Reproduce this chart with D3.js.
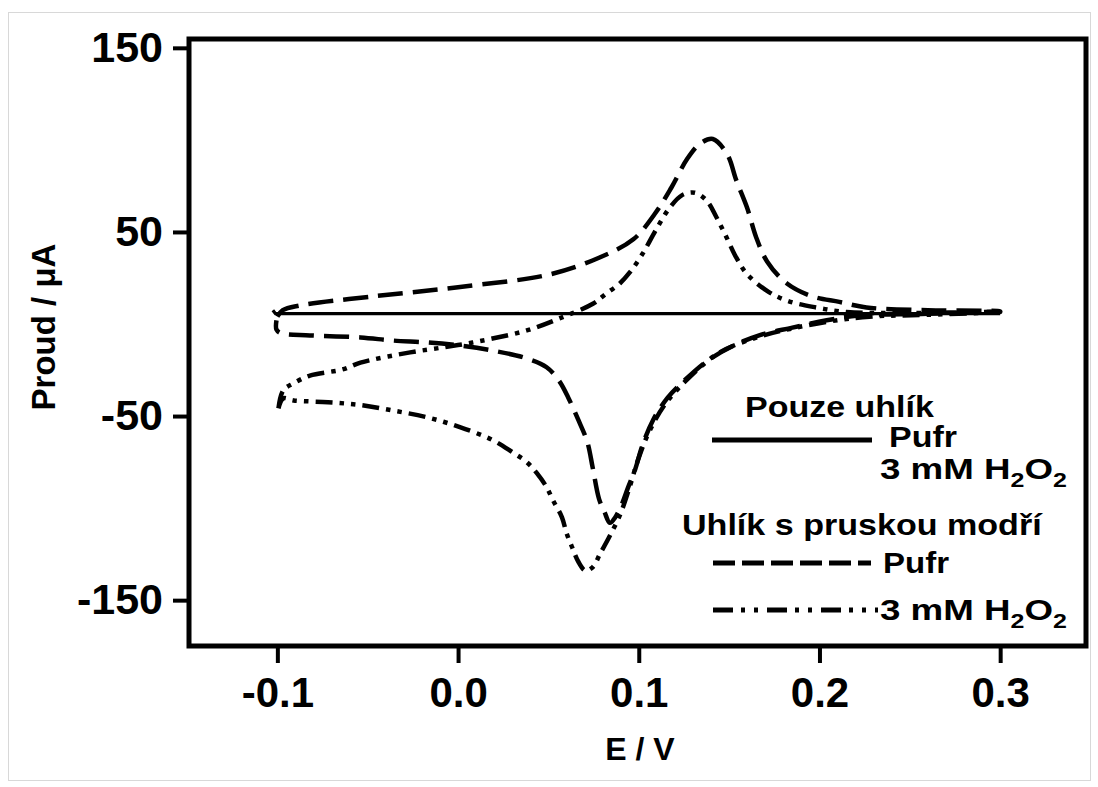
<!DOCTYPE html>
<html><head><meta charset="utf-8">
<script src="https://cdn.jsdelivr.net/npm/d3@7"></script>
<style>
body{margin:0;background:#fff}
svg{display:block}
text{font-family:"Liberation Sans",Arial,sans-serif;font-weight:bold;fill:#000}
</style>
</head><body><svg id="c" width="1098" height="787"></svg>
<script>
// ---------- data ----------
const potentialTicks = [-0.1, 0.0, 0.1, 0.2, 0.3];
const currentTicks = [150, 50, -50, -150];
const xTitle = "E / V";
const yTitle = "Proud / μA";

// Carbon only, buffer (solid)
const carbonBuffer = [[-0.1025, 7.5], [-0.101, 5.6], [0.3, 5.6]];

// Carbon with Prussian blue, buffer (dashed) – anodic then cathodic scan
const pbBufferForward = [[-0.1, 4], [-0.097, 7.5], [-0.088, 10], [-0.047, 15], [0.0, 20], [0.051, 27], [0.078, 36],
  [0.097, 46], [0.109, 60], [0.118, 74], [0.127, 90], [0.134, 98], [0.141, 100.5], [0.149, 92], [0.154, 78],
  [0.160, 63], [0.165, 47], [0.171, 34], [0.182, 22], [0.196, 15], [0.211, 12], [0.226, 9], [0.26, 7.5], [0.3, 7]];
const pbBufferReverse = [[0.3, 6.5], [0.26, 5.5], [0.222, 4.6], [0.204, 2], [0.185, -2], [0.167, -6], [0.152, -12],
  [0.138, -20], [0.126, -30], [0.116, -40], [0.108, -52], [0.102, -66], [0.098, -79], [0.094, -89], [0.091, -97],
  [0.087, -105], [0.084, -108], [0.081, -102], [0.078, -95], [0.0745, -78], [0.0715, -64], [0.0665, -52],
  [0.061, -40], [0.056, -31], [0.049, -23.5], [0.038, -18.7], [0.019, -14.4], [0.001, -11.7], [-0.017, -10],
  [-0.036, -9], [-0.054, -7.3], [-0.082, -6.2], [-0.098, -5], [-0.1005, -3], [-0.1005, 2]];

// Carbon with Prussian blue, 3 mM H2O2 (dash-dot-dot)
const pbH2O2Forward = [[-0.0994, -45.8], [-0.0967, -36], [-0.091, -32.2], [-0.082, -28], [-0.064, -24.7],
  [-0.054, -21], [-0.0265, -15.4], [-0.008, -12.7], [0.005, -10.6], [0.019, -7.9], [0.038, -3.5], [0.056, 3],
  [0.0746, 11], [0.082, 16.5], [0.0895, 22], [0.095, 28], [0.102, 38], [0.110, 52], [0.117, 63], [0.124, 70],
  [0.131, 71.3], [0.1376, 67], [0.143, 58], [0.1486, 47], [0.154, 36], [0.160, 27], [0.171, 18], [0.182, 12.7],
  [0.198, 9], [0.215, 6.5], [0.25, 6], [0.3, 6.5]];
const pbH2O2Reverse = [[0.3, 6], [0.26, 5], [0.2276, 4], [0.2055, 1.4], [0.185, -2.4], [0.167, -6.8],
  [0.1448, -15.4], [0.128, -29], [0.115, -43], [0.106, -58], [0.0995, -74], [0.0945, -90], [0.0895, -104],
  [0.0835, -116], [0.0785, -125], [0.0746, -132], [0.0705, -134], [0.0665, -129], [0.063, -121], [0.060, -113.5],
  [0.0575, -105], [0.0525, -95.7], [0.049, -88.6], [0.0436, -81], [0.038, -75], [0.030, -69.6], [0.019, -63],
  [0.001, -56], [-0.017, -50.7], [-0.036, -47], [-0.054, -44], [-0.072, -42.5], [-0.091, -41.5], [-0.0967, -40.4],
  [-0.0994, -45.8]];

const legendHeaders = ["Pouze uhlík", "Uhlík s pruskou modří"];
const legendLabels = ["Pufr", "3 mM H2O2", "Pufr", "3 mM H2O2"];

// ---------- chart ----------
const svg = d3.select("#c");
const plot = {left: 189, right: 1086, top: 39, bottom: 646};

svg.append("rect").attr("x", 8.5).attr("y", 12.5).attr("width", 1082).attr("height", 768)
  .attr("fill", "#fff").attr("stroke", "#d8d8d8").attr("stroke-width", 1);

const x = d3.scaleLinear().domain([-0.1489, 0.3475]).range([plot.left, plot.right]);
const y = d3.scaleLinear().domain([-174.9, 154.8]).range([plot.bottom, plot.top]);

const smooth = d3.line().x(d => x(d[0])).y(d => y(d[1])).curve(d3.curveCatmullRom.alpha(0.5));
const straight = d3.line().x(d => x(d[0])).y(d => y(d[1]));

const styles = {
  solid: {dash: null, w: 3.2},
  dashed: {dash: "25,10", w: 4.5},
  dashdot: {dash: "17,7,4.5,7,4.5,7", w: 4.5}
};

function drawCurve(gen, pts, st) {
  svg.append("path").attr("d", gen(pts)).attr("fill", "none").attr("stroke", "#000")
    .attr("stroke-width", st.w).attr("stroke-dasharray", st.dash).attr("stroke-linejoin", "round");
}
drawCurve(straight, carbonBuffer, styles.solid);
drawCurve(smooth, pbBufferForward.concat(pbBufferReverse.slice(1)), styles.dashed);
drawCurve(smooth, pbH2O2Forward.concat(pbH2O2Reverse.slice(1)), styles.dashdot);

// axes
const yAxis = d3.axisLeft(y).tickValues(currentTicks).tickFormat(d => String(d)).tickSize(16).tickPadding(10);
const gy = svg.append("g").attr("transform", `translate(${plot.left},0)`).call(yAxis);
const xAxis = d3.axisBottom(x).tickValues(potentialTicks).tickFormat(d => d.toFixed(1)).tickSize(17).tickPadding(14);
const gx = svg.append("g").attr("transform", `translate(0,${plot.bottom})`).call(xAxis);
[gx, gy].forEach(g => {
  g.select(".domain").remove();
  g.selectAll(".tick line").attr("stroke", "#000").attr("stroke-width", 4);
  g.selectAll(".tick text").attr("fill", "#000").style("font-family", '"Liberation Sans",Arial,sans-serif')
    .style("font-weight", "bold");
});
gy.selectAll(".tick text").style("font-size", "43px");
gx.selectAll(".tick text").style("font-size", "42px");

// frame
svg.append("rect").attr("x", plot.left).attr("y", plot.top)
  .attr("width", plot.right - plot.left).attr("height", plot.bottom - plot.top)
  .attr("fill", "none").attr("stroke", "#000").attr("stroke-width", 5);

// titles
svg.append("text").attr("x", 640).attr("y", 760).attr("text-anchor", "middle")
  .style("font-size", "32px").text(xTitle);
svg.append("text").attr("transform", "translate(55,327) rotate(-90)").attr("text-anchor", "middle")
  .style("font-size", "33px").text(yTitle);

// legend
function fitText(t, x0, base, targetW) {
  const w = t.node().getBBox().width;
  t.attr("transform", `translate(${x0},${base}) scale(${targetW / w},1)`);
}
function addText(str, x0, base, size, targetW) {
  const t = svg.append("text").attr("x", 0).attr("y", 0).style("font-size", size + "px");
  const m = str.match(/^(.*)H2O2$/);
  if (m) {
    t.append("tspan").text(m[1] + "H");
    t.append("tspan").attr("dy", 8).style("font-size", (size * 0.68) + "px").text("2");
    t.append("tspan").attr("dy", -8).text("O");
    t.append("tspan").attr("dy", 8).style("font-size", (size * 0.68) + "px").text("2");
  } else t.text(str);
  fitText(t, x0, base, targetW);
}
function legendLine(x0, x1, yy, st) {
  svg.append("line").attr("x1", x0).attr("x2", x1).attr("y1", yy).attr("y2", yy)
    .attr("stroke", "#000").attr("stroke-width", 5).attr("stroke-dasharray", st.dash);
}
addText(legendHeaders[0], 745, 417, 29, 190);
legendLine(712, 872, 440, styles.solid);
addText(legendLabels[0], 889, 447, 29, 68);
addText(legendLabels[1], 880, 479, 29, 187);
addText(legendHeaders[1], 682, 535, 29, 361);
legendLine(713, 871, 563, {dash: "22,7"});
addText(legendLabels[2], 883, 573, 29, 66);
legendLine(713, 878, 610, {dash: "20,8,4,9,4,9"});
addText(legendLabels[3], 880, 620, 29, 187);
</script>
</body></html>
